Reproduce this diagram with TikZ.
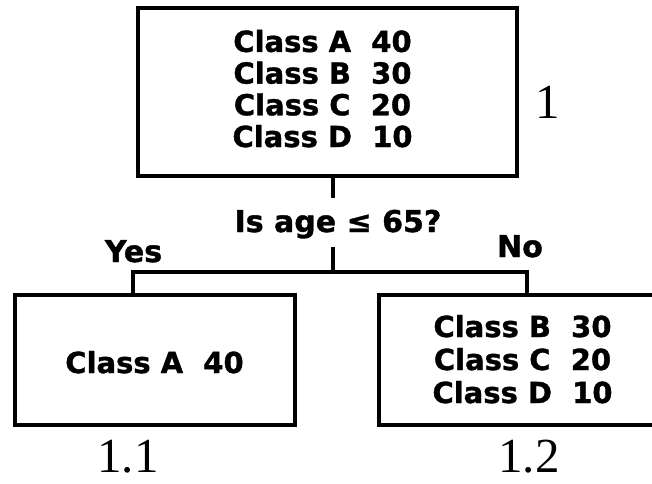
\documentclass[tikz,border=0pt]{standalone}
\usepackage{fontspec}
\newfontfamily\dvfont{DejaVu Sans}[BoldFeatures={FakeBold=1.2}]
\newfontfamily\serfont{Liberation Serif}
\begin{document}
\begin{tikzpicture}[x=1pt,y=-1pt,
  box/.style={draw=black, line width=3.6pt, rectangle, inner sep=0pt},
  conn/.style={draw=black, line width=3.2pt},
  cls/.style={font=\dvfont\bfseries\fontsize{29}{31.7}\selectfont, align=center, inner sep=0pt, anchor=base},
  lbl/.style={font=\dvfont\bfseries\fontsize{30}{32}\selectfont, inner sep=0pt, anchor=base},
  num/.style={font=\serfont\fontsize{49}{51}\selectfont, inner sep=0pt, anchor=base}]
\useasboundingbox (0,0) rectangle (652,483);
\fill[white] (0,0) rectangle (652,483);
% boxes
\node[box, minimum width=379pt, minimum height=168pt] (root) at (327.5,92) {};
\node[box, minimum width=280pt, minimum height=130pt] (left) at (155,360) {};
\node[box, minimum width=281pt, minimum height=130pt] (right) at (519.5,360) {};
% box texts (base anchor = baseline of last line)
\node[cls] (roottxt) at (322.5,147) {Class A\ \ 40\\Class B\ \ 30\\Class C\ \ 20\\Class D\ \ 10};
\node[cls] (lefttxt) at (154.5,373) {Class A\ \ 40};
\node[cls, font=\dvfont\bfseries\fontsize{29}{33}\selectfont] (righttxt) at (522.5,403) {Class B\ \ 30\\Class C\ \ 20\\Class D\ \ 10};
% labels
\node[lbl] (q) at (338,232) {Is age ≤ 65?};
\node[lbl] (yes) at (133.5,262) {Yes};
\node[lbl] (no) at (520,257) {No};
\node[num] (n1) at (548,118) {1};
\node[num] (n11) at (128,472) {1.1};
\node[num] (n12) at (529,472) {1.2};
% connectors
\coordinate (qa) at (333,198);
\coordinate (qb) at (333,247);
\coordinate (j) at (333,272);
\coordinate (jl) at (133,272);
\coordinate (jr) at (527,272);
\draw[conn] (root.south -| qa) -- (qa);
\draw[conn] (qb) -- (j);
\draw[conn] (left.north -| jl) -- (jl) -- (jr) -- (right.north -| jr);
\end{tikzpicture}
\end{document}
